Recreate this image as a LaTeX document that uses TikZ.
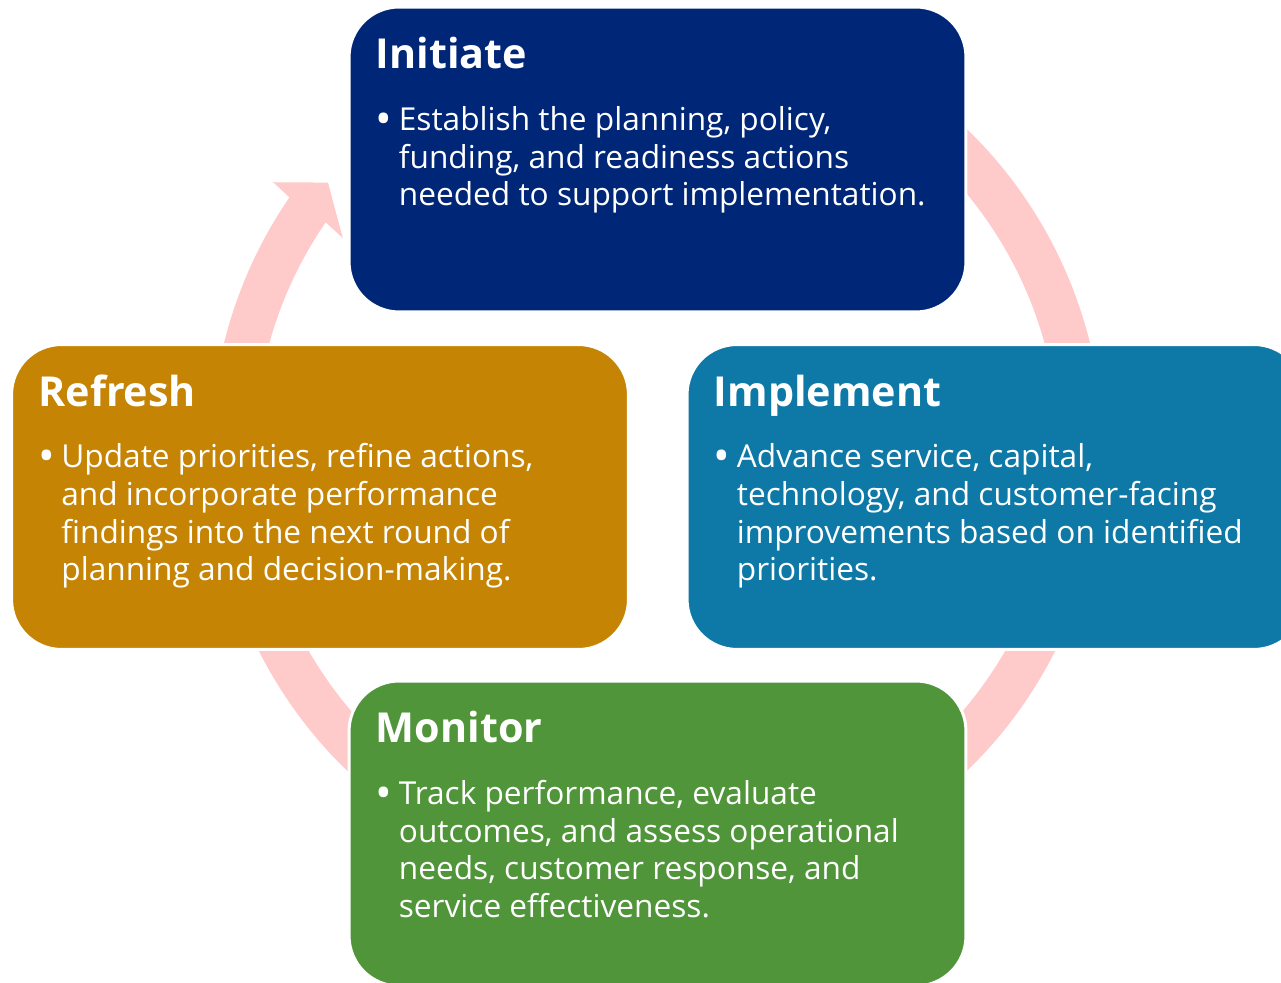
\documentclass[tikz,border=0pt]{standalone}
\usepackage{fontspec}
\setmainfont{Open Sans}
\usetikzlibrary{positioning}
\definecolor{initblue}{HTML}{002678}
\definecolor{refreshgold}{HTML}{C58404}
\definecolor{implteal}{HTML}{0E79A7}
\definecolor{monigreen}{HTML}{50953A}
\definecolor{ringpink}{HTML}{FFCACA}
\newcommand{\bul}[1]{\begin{tabular}[t]{@{}p{0.46cm}@{}l@{}}\scalebox{1.4}{\raisebox{-0.08em}{\textbullet}} & #1\end{tabular}}

\begin{document}
\begin{tikzpicture}[x=0.02cm, y=0.02cm,
  stage/.style={rectangle, rounded corners=1cm, draw=white, line width=0.06cm, minimum width=12.34cm, minimum height=6.1cm},
  head/.style={anchor=base west, inner sep=0pt, text=white, font=\fontsize{23.5}{28}\selectfont\bfseries},
  body/.style={anchor=base west, inner sep=0pt, text=white, font=\fontsize{18}{21.4}\selectfont}]
\useasboundingbox (0,0) rectangle (1281,983);
\clip (0,0) rectangle (1281,983);
\coordinate (hub) at (657,533);
% ring arrow behind the boxes
\fill[ringpink, shift={(hub)}] (65:446) arc[start angle=65, end angle=-214.5, radius=446]
  -- (-214.9:468) -- (-219.1:424) -- (-214:379) -- (-214.5:402)
  arc[start angle=-214.5, end angle=65, radius=402] -- cycle;
\node[stage, fill=initblue] (init) at (657.5,823.5) {};
\node[stage, fill=refreshgold] (refr) at (320,486) {};
\node[stage, fill=implteal] (impl) at (995.5,486) {};
\node[stage, fill=monigreen] (moni) at (657.5,149.5) {};
\node[head, below right=1.26cm and 0.56cm of init.north west, anchor=base west] (initT) {Initiate};
\node[body, below=1.24cm of initT.base west, anchor=base west] (initB) {\bul{Establish the planning, policy,\\ & funding, and readiness actions\\ & needed to support implementation.}};
\node[head, below right=1.26cm and 0.56cm of refr.north west, anchor=base west] (refrT) {Refresh};
\node[body, below=1.24cm of refrT.base west, anchor=base west] (refrB) {\bul{Update priorities, refine actions,\\ & and incorporate performance\\ & findings into the next round of\\ & planning and decision-making.}};
\node[head, below right=1.26cm and 0.56cm of impl.north west, anchor=base west] (implT) {Implement};
\node[body, below=1.24cm of implT.base west, anchor=base west] (implB) {\bul{Advance service, capital,\\ & technology, and customer-facing\\ & improvements based on identified\\ & priorities.}};
\node[head, below right=1.26cm and 0.56cm of moni.north west, anchor=base west] (moniT) {Monitor};
\node[body, below=1.24cm of moniT.base west, anchor=base west] (moniB) {\bul{Track performance, evaluate\\ & outcomes, and assess operational\\ & needs, customer response, and\\ & service effectiveness.}};
\end{tikzpicture}
\end{document}
